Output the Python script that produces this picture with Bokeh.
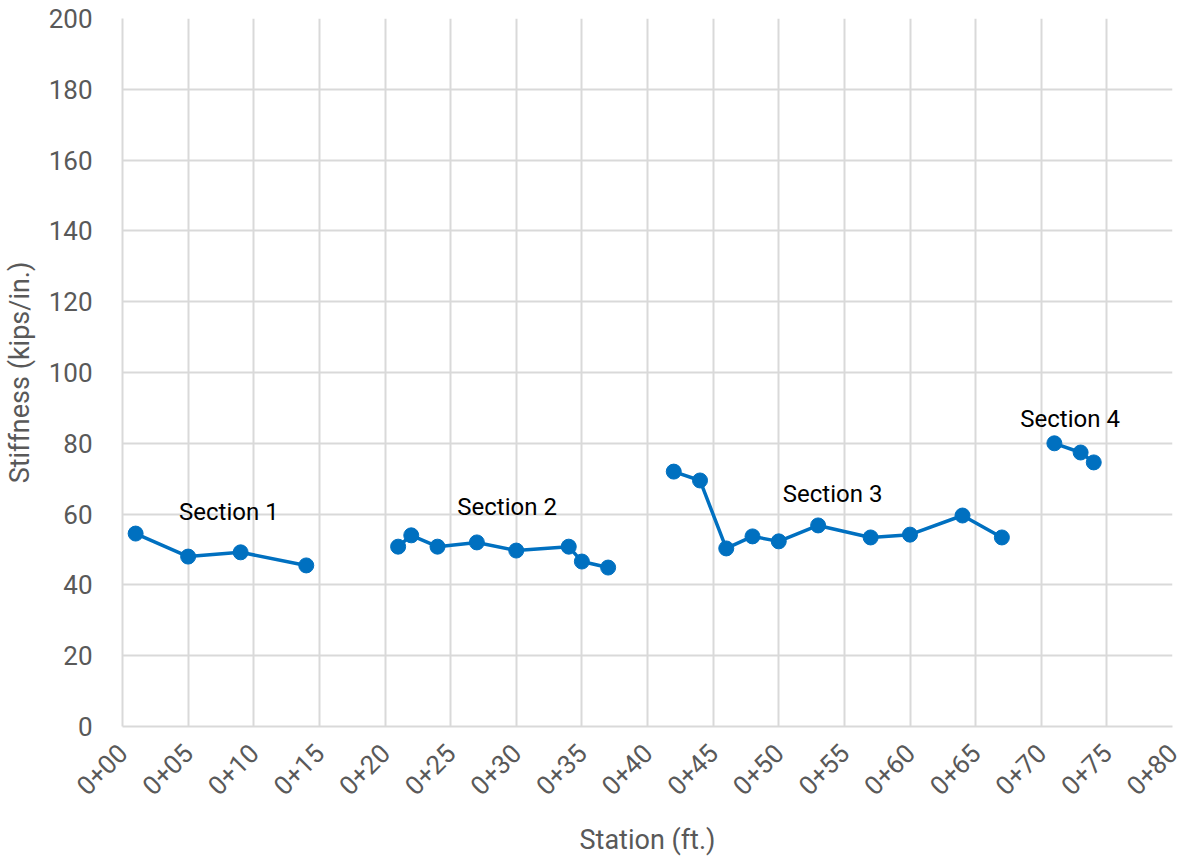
import math
from bokeh.plotting import figure
from bokeh.models import ColumnDataSource, FixedTicker
from bokeh.core.properties import value
from bokeh.embed import file_html
from bokeh.resources import INLINE

FONT = "Roboto"

# Data (station in ft, stiffness in kips/in.)
s1_x = [1, 5, 9, 14]
s1_y = [54.5, 48.0, 49.2, 45.5]
s2_x = [21, 22, 24, 27, 30, 34, 35, 37]
s2_y = [50.8, 54.0, 50.8, 52.0, 49.7, 50.8, 46.6, 44.9]
s3_x = [42, 44, 46, 48, 50, 53, 57, 60, 64, 67]
s3_y = [72.0, 69.5, 50.3, 53.7, 52.3, 56.8, 53.4, 54.2, 59.6, 53.4]
s4_x = [71, 73, 74]
s4_y = [80.0, 77.4, 74.6]

label_text = ["Section 1", "Section 2", "Section 3", "Section 4"]
label_x = [8.1, 29.3, 54.1, 72.2]
label_y = [60.5, 61.9, 65.8, 87.0]

x_ticks = list(range(0, 85, 5))
x_tick_labels = ["0+00", "0+05", "0+10", "0+15", "0+20", "0+25", "0+30", "0+35", "0+40",
                 "0+45", "0+50", "0+55", "0+60", "0+65", "0+70", "0+75", "0+80"]
y_ticks = list(range(0, 220, 20))

BLUE = "#0070C0"
GRID = "#d9d9d9"
TXT = "#595959"

p = figure(width=1186, height=865, output_backend="svg", toolbar_location=None,
           x_range=(0, 80), y_range=(0, 200),
           min_border_left=122, min_border_right=14, min_border_top=18, min_border_bottom=139)
p.outline_line_color = None
p.background_fill_color = "white"

for xs, ys in [(s1_x, s1_y), (s2_x, s2_y), (s3_x, s3_y), (s4_x, s4_y)]:
    src = ColumnDataSource(dict(x=xs, y=ys))
    p.line("x", "y", source=src, line_color=BLUE, line_width=3.5)
    p.scatter("x", "y", source=src, size=15, fill_color=BLUE, line_color=BLUE)

lsrc = ColumnDataSource(dict(x=label_x, y=label_y, t=label_text))
p.text("x", "y", text="t", source=lsrc, text_font=value(FONT), text_font_size="24px",
       text_color="black", text_align="center", text_baseline="middle")

p.xaxis.ticker = FixedTicker(ticks=x_ticks)
p.xaxis.major_label_overrides = {t: l for t, l in zip(x_ticks, x_tick_labels)}
p.xaxis.major_label_orientation = math.pi / 4
p.yaxis.ticker = FixedTicker(ticks=y_ticks)

for ax in [p.xaxis[0], p.yaxis[0]]:
    ax.axis_line_color = GRID
    ax.axis_line_width = 2
    ax.major_tick_line_color = None
    ax.minor_tick_line_color = None
    ax.major_label_text_font = FONT
    ax.major_label_text_font_size = "26px"
    ax.major_label_text_color = TXT
    ax.axis_label_text_font = FONT
    ax.axis_label_text_font_size = "27px"
    ax.axis_label_text_color = TXT
    ax.axis_label_text_font_style = "normal"

p.xaxis.axis_label = "Station (ft.)"
p.yaxis.axis_label = "Stiffness (kips/in.)"
p.yaxis.major_label_standoff = 24
p.xaxis.major_label_standoff = 16
p.xaxis.axis_label_standoff = 18
p.yaxis.axis_label_standoff = 10

p.xgrid.ticker = FixedTicker(ticks=x_ticks)
p.ygrid.ticker = FixedTicker(ticks=y_ticks)
p.grid.grid_line_color = GRID
p.grid.grid_line_width = 2

open("out.html", "w").write(file_html(p, INLINE))
